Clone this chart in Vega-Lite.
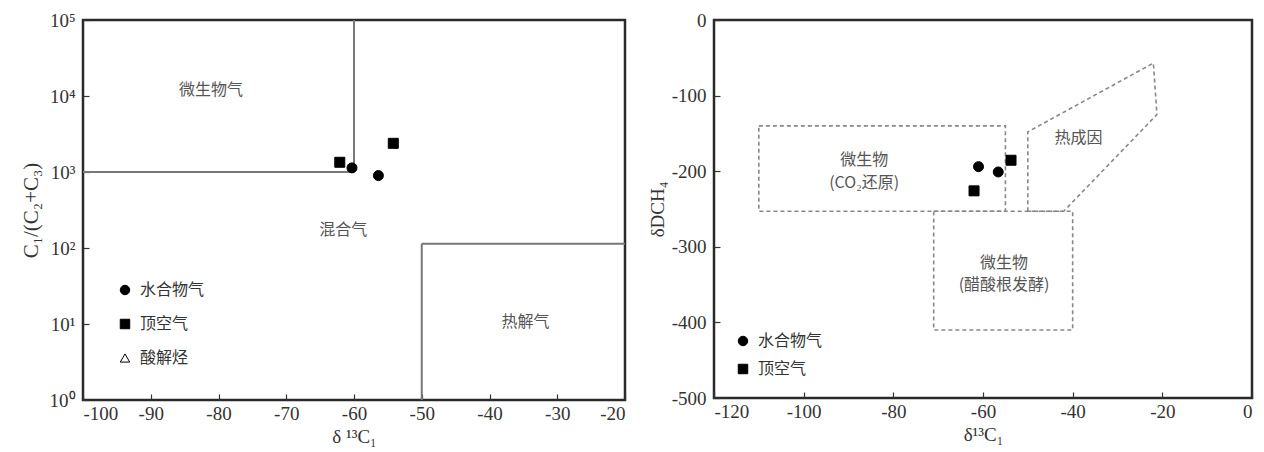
{
  "$schema": "https://vega.github.io/schema/vega-lite/v6.json",
  "background": "white",
  "padding": {"left": 18, "top": 9, "right": 0, "bottom": 5},
  "bounds": "flush",
  "spacing": 89,
  "resolve": {
    "scale": {"shape": "independent", "color": "independent"},
    "legend": {"shape": "independent", "color": "independent"}
  },
  "config": {
    "font": "Liberation Serif",
    "view": {"stroke": "#2a2a2a", "strokeWidth": 2.5},
    "axis": {
      "grid": false,
      "domain": false,
      "tickColor": "#333",
      "tickSize": -6,
      "tickWidth": 1.2,
      "labelFont": "Liberation Serif",
      "labelFontSize": 19,
      "labelColor": "#333",
      "titleFont": "Liberation Serif",
      "titleFontSize": 19,
      "titleFontWeight": "normal",
      "titleColor": "#333"
    },
    "axisX": {"labelPadding": 10},
    "axisY": {"labelPadding": 14},
    "legend": {
      "title": null,
      "labelFont": "Noto Sans CJK SC",
      "labelFontSize": 16,
      "labelColor": "#333",
      "symbolSize": 90,
      "symbolStrokeColor": "black",
      "symbolStrokeWidth": 1,
      "labelOffset": 7,
      "padding": 0
    }
  },
  "hconcat": [
    {
      "width": 542,
      "height": 380,
      "encoding": {
        "x": {
          "field": "x", "type": "quantitative",
          "scale": {"domain": [-100, -20], "nice": false, "zero": false},
          "axis": {"values": [-100, -90, -80, -70, -60, -50, -40, -30, -20], "labelExpr": "replace(datum.label, '−', '-')", "title": "δ ¹³C₁", "titlePadding": 4}
        },
        "y": {
          "field": "y", "type": "quantitative",
          "scale": {"type": "log", "domain": [1, 100000], "nice": false},
          "axis": {
            "values": [1, 10, 100, 1000, 10000, 100000],
            "labelExpr": "'10' + ['⁰','¹','²','³','⁴','⁵'][round(log(datum.value)/LN10)]",
            "title": "C₁/(C₂+C₃)",
            "titleFontSize": 21,
            "titlePadding": 8
          }
        }
      },
      "layer": [
        {
          "data": {"values": [
            {"x": -100, "x2": -60, "y": 1000, "y2": 1000},
            {"x": -60, "x2": -60, "y": 1000, "y2": 100000},
            {"x": -50, "x2": -20, "y": 114, "y2": 114},
            {"x": -50, "x2": -50, "y": 1, "y2": 114}
          ]},
          "mark": {"type": "rule", "color": "#777", "strokeWidth": 2},
          "encoding": {"x2": {"field": "x2"}, "y2": {"field": "y2"}}
        },
        {
          "data": {"values": [
            {"x": -81.1, "y": 12000, "label": "微生物气"},
            {"x": -61.6, "y": 170, "label": "混合气"},
            {"x": -34.7, "y": 10.7, "label": "热解气"}
          ]},
          "mark": {"type": "text", "font": "Noto Sans CJK SC", "fontSize": 16, "color": "#555"},
          "encoding": {"text": {"field": "label"}}
        },
        {
          "data": {"values": [
            {"x": -62.1, "y": 1343, "type": "顶空气"},
            {"x": -60.3, "y": 1133, "type": "水合物气"},
            {"x": -56.4, "y": 897, "type": "水合物气"},
            {"x": -54.2, "y": 2384, "type": "顶空气"}
          ]},
          "mark": {"type": "point", "filled": true, "size": 100, "opacity": 1, "stroke": "black", "strokeWidth": 1},
          "encoding": {
            "shape": {
              "field": "type", "type": "nominal",
              "scale": {"domain": ["水合物气", "顶空气", "酸解烃"], "range": ["circle", "square", "triangle-up"]},
              "legend": {"orient": "bottom-left", "offset": 34, "rowPadding": 18}
            },
            "color": {
              "field": "type", "type": "nominal",
              "scale": {"domain": ["水合物气", "顶空气", "酸解烃"], "range": ["black", "black", "white"]},
              "legend": {"orient": "bottom-left", "offset": 34, "rowPadding": 18}
            }
          }
        }
      ]
    },
    {
      "width": 538,
      "height": 378,
      "encoding": {
        "x": {
          "field": "x", "type": "quantitative",
          "scale": {"domain": [-120, 0], "nice": false, "zero": false},
          "axis": {"values": [-120, -100, -80, -60, -40, -20, 0], "labelExpr": "replace(datum.label, '−', '-')", "title": "δ¹³C₁", "titlePadding": 4}
        },
        "y": {
          "field": "y", "type": "quantitative",
          "scale": {"domain": [-500, 0], "nice": false},
          "axis": {"values": [-500, -400, -300, -200, -100, 0], "labelExpr": "replace(datum.label, '−', '-')", "title": "δDCH₄", "titlePadding": 4}
        }
      },
      "layer": [
        {
          "data": {"values": [
            {"shape": "co2", "ord": 1, "x": -110, "y": -140},
            {"shape": "co2", "ord": 2, "x": -55, "y": -140},
            {"shape": "co2", "ord": 3, "x": -55, "y": -253},
            {"shape": "co2", "ord": 4, "x": -110, "y": -253},
            {"shape": "co2", "ord": 5, "x": -110, "y": -140},
            {"shape": "acetate", "ord": 1, "x": -71, "y": -253},
            {"shape": "acetate", "ord": 2, "x": -40, "y": -253},
            {"shape": "acetate", "ord": 3, "x": -40, "y": -410},
            {"shape": "acetate", "ord": 4, "x": -71, "y": -410},
            {"shape": "acetate", "ord": 5, "x": -71, "y": -253},
            {"shape": "thermo", "ord": 1, "x": -50, "y": -253},
            {"shape": "thermo", "ord": 2, "x": -50, "y": -148},
            {"shape": "thermo", "ord": 3, "x": -22, "y": -57},
            {"shape": "thermo", "ord": 4, "x": -21.2, "y": -125},
            {"shape": "thermo", "ord": 5, "x": -42, "y": -253},
            {"shape": "thermo", "ord": 6, "x": -50, "y": -253}
          ]},
          "mark": {"type": "line", "color": "#888", "strokeWidth": 1.6, "strokeDash": [4, 3]},
          "encoding": {"detail": {"field": "shape"}, "order": {"field": "ord"}}
        },
        {
          "data": {"values": [
            {"x": -86.5, "y": -185, "label": "微生物"},
            {"x": -86.5, "y": -215, "label": "(CO₂还原)"},
            {"x": -38.7, "y": -156, "label": "热成因"},
            {"x": -55.3, "y": -321, "label": "微生物"},
            {"x": -55.3, "y": -350, "label": "(醋酸根发酵)"}
          ]},
          "mark": {"type": "text", "font": "Noto Sans CJK SC", "fontSize": 16, "color": "#555"},
          "encoding": {"text": {"field": "label"}}
        },
        {
          "data": {"values": [
            {"x": -61.0, "y": -194, "type": "水合物气"},
            {"x": -56.6, "y": -201, "type": "水合物气"},
            {"x": -53.75, "y": -185.5, "type": "顶空气"},
            {"x": -62.0, "y": -226, "type": "顶空气"}
          ]},
          "mark": {"type": "point", "filled": true, "size": 100, "opacity": 1, "stroke": "black", "strokeWidth": 1},
          "encoding": {
            "shape": {
              "field": "type", "type": "nominal",
              "scale": {"domain": ["水合物气", "顶空气"], "range": ["circle", "square"]},
              "legend": {"orient": "bottom-left", "offset": 21, "rowPadding": 12}
            },
            "color": {
              "field": "type", "type": "nominal",
              "scale": {"domain": ["水合物气", "顶空气"], "range": ["black", "black"]},
              "legend": {"orient": "bottom-left", "offset": 21, "rowPadding": 12}
            }
          }
        }
      ]
    }
  ]
}
